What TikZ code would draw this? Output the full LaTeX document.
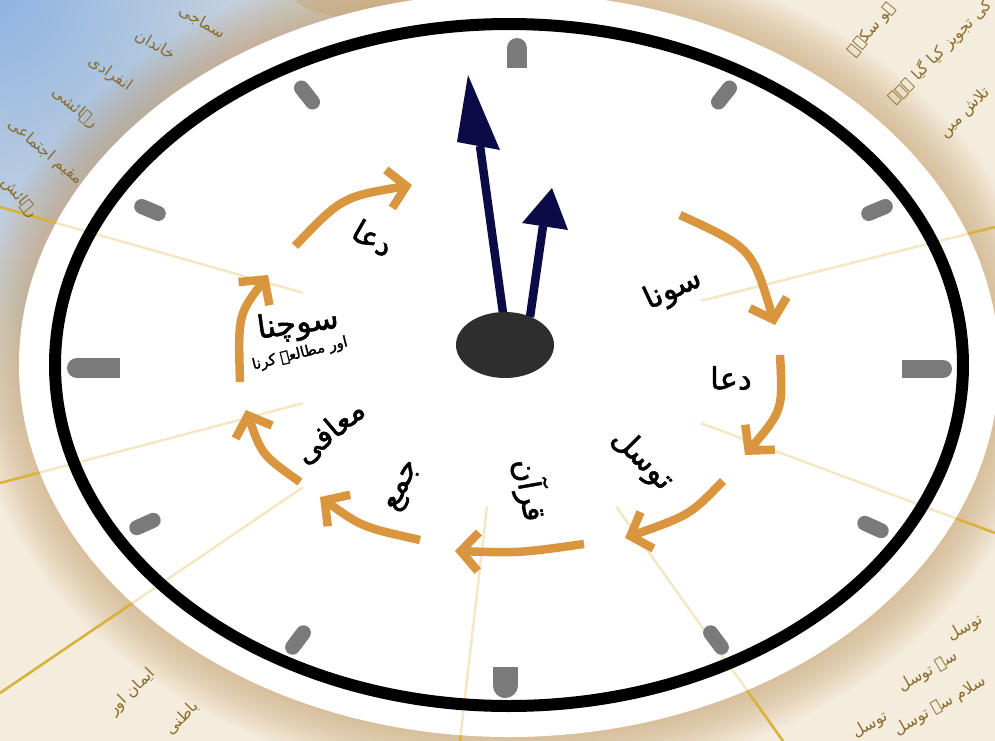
\documentclass[tikz,border=0pt]{standalone}
\usepackage{fontspec}
\usepackage{tikz}
\usetikzlibrary{arrows.meta, calc}
\TeXXeTstate=1
\newfontfamily\urdu[Script=Arabic]{DejaVu Sans}
\newfontfamily\urdub[Script=Arabic, FakeBold=1.6]{DejaVu Sans}
\definecolor{corange}{HTML}{D9963F}
\definecolor{cnavy}{HTML}{0B0B48}
\definecolor{chub}{HTML}{2E2E2E}
\definecolor{cmark}{HTML}{7A7A7A}
\definecolor{cgold}{HTML}{D9B23C}
\definecolor{ccream}{HTML}{F4ECDC}
\definecolor{ctan}{HTML}{C49A62}
\definecolor{csky}{HTML}{8DB2E2}
\definecolor{cbgtext}{HTML}{8A6C2C}
\tikzset{
  lbl/.style={font=\urdub\fontsize{17.5}{20}\selectfont, text=black, inner sep=1pt},
  bgtxt/.style={font=\urdu\fontsize{9}{11}\selectfont, text=cbgtext, inner sep=0pt},
  arr/.style={corange, line width=0.17cm, -{Straight Barb[length=10pt,width=22pt]}},
  ray/.style={cgold, line width=0.05cm},
  hand/.style={cnavy, line width=0.17cm},
  pill/.style={cmark, line width=0.3cm, line cap=round},
  markbar/.style={cmark, line width=#1},
}

\begin{document}
\begin{tikzpicture}[x=0.02cm, y=-0.02cm]
  \useasboundingbox (0,0) rectangle (995,741);
  \clip (0,0) rectangle (995,741);

  %% Background: paper, sky and shadow of the dial
  \fill[ccream] (0,0) rectangle (995,741);
  \shade[inner color=csky, outer color=ccream] (-10,-10) circle (470);
  \foreach \d in {48,45,...,3}{
    \fill[ctan, opacity=0.04] (509,365) ellipse [x radius=490+\d, y radius=372+\d];
  }
  \fill[ctan, opacity=0.35] (365,-8) ellipse [x radius=75, y radius=26];

  %% Rays
  \coordinate (ctr) at (505,350);
  \foreach \ex/\ey in {0/207, 0/483, 0/693, 460/741, 783/741, 995/533, 995/227}{
    \draw[ray] (ctr) -- (\ex,\ey);
  }

  %% Dial
  \fill[white] (509,365) ellipse [x radius=490, y radius=372];
  \foreach \ex/\ey in {0/207, 0/483, 0/693, 460/741, 783/741, 995/533, 995/227}{
    \draw[ray, opacity=0.3] ($(ctr)!0.4!(\ex,\ey)$) -- (\ex,\ey);
  }
  \draw[line width=0.24cm] (509,365) ellipse [x radius=454, y radius=341];

  %% Hour marks
  \draw[markbar=0.4cm] (517,68) -- (517,48);
  \draw[markbar=0.4cm, line cap=round] (517,50) -- (517,48);
  \draw[markbar=0.5cm] (505,667) -- (505,685.5);
  \draw[markbar=0.5cm, line cap=round] (505,684) -- (505,685.5);
  \draw[markbar=0.36cm] (902,369) -- (943,369);
  \draw[markbar=0.36cm, line cap=round] (941,369) -- (943,369);
  \draw[markbar=0.4cm] (77,368) -- (120,368);
  \draw[markbar=0.4cm, line cap=round] (77,368) -- (79,368);
  \foreach \ax/\ay/\bx/\by in {718.5/102/729.5/88, 868.7/213.5/885.3/206.5,
      864.8/523.3/881.2/530.7, 710.6/632.8/721.4/647.2,
      303.4/632.8/292.6/647.2, 153.2/520.3/136.8/527.7,
      158.3/213.5/141.7/206.5, 312.5/102/301.5/88}{
    \draw[pill] (\ax,\ay) -- (\bx,\by);
  }

  %% Hands
  \draw[hand] (503,313) -- (480,146);
  \fill[cnavy] (468,75) -- (457,142) -- (500,150) -- cycle;
  \draw[hand] (530,317) -- (543,226);
  \fill[cnavy] (552,188) -- (522,223) -- (568,230) -- cycle;
  \fill[chub] (505,345) ellipse [x radius=49, y radius=33];

  %% Cycle of arrows
  \draw[arr] (680,215) .. controls (752,248) .. (775,325);
  \draw[arr] (780,355) .. controls (783,410) .. (745,455);
  \draw[arr] (723,481) .. controls (690,515) .. (625,538);
  \draw[arr] (584,544) .. controls (520,553) .. (455,551);
  \draw[arr] (420,540) .. controls (362,527) .. (320,497);
  \draw[arr] (300,482) .. controls (262,455) .. (246,410);
  \draw[arr] (240,382) .. controls (238,315) .. (268,275);
  \draw[arr] (295,246) .. controls (342,197) .. (412,185);

  %% Labels
  \node[lbl, rotate=25] (sona) at (673,290) {\beginR سونا\endR};
  \node[lbl] (duaright) at (731,378) {\beginR دعا\endR};
  \node[lbl, rotate=-45] (tawassul) at (642,460) {\beginR توسل\endR};
  \node[lbl, rotate=-80] (quran) at (530,490) {\beginR قرآن\endR};
  \node[lbl, rotate=65] (jama) at (405,487) {\beginR جمع\endR};
  \node[lbl, rotate=40] (maafi) at (330,432) {\beginR معافی\endR};
  \node[lbl, rotate=8, font=\urdub\fontsize{18}{20}\selectfont] (sochna) at (298,325) {\beginR سوچنا\endR};
  \node[lbl, rotate=14, font=\urdub\fontsize{8.5}{10}\selectfont] (mutala) at (300,354) {\beginR اور مطالعہ کرنا\endR};
  \node[lbl, rotate=-30] (duatop) at (373,238) {\beginR دعا\endR};

  %% Faded text round the dial
  \node[bgtxt, rotate=-30] (bg1) at (202,22) {\beginR سماجی\endR};
  \node[bgtxt, rotate=-30] (bg2) at (155,45) {\beginR خاندان\endR};
  \node[bgtxt, rotate=-35] (bg3) at (110,74) {\beginR انفرادی\endR};
  \node[bgtxt, rotate=-40] (bg4) at (75,108) {\beginR رہائشی\endR};
  \node[bgtxt, rotate=-40] (bg5) at (45,152) {\beginR مقیم اجتماعی\endR};
  \node[bgtxt, rotate=-50] (bg6) at (20,198) {\beginR رہائش\endR};
  \node[bgtxt, rotate=50] (bg7) at (872,30) {\beginR ہو سکے۔\endR};
  \node[bgtxt, rotate=45] (bg8) at (940,52) {\beginR کی تجویز کیا گیا ہے۔\endR};
  \node[bgtxt, rotate=45] (bg9) at (965,113) {\beginR تلاش میں\endR};
  \node[bgtxt, rotate=30] (bg10) at (965,628) {\beginR توسل\endR};
  \node[bgtxt, rotate=30] (bg11) at (928,672) {\beginR سے توسل\endR};
  \node[bgtxt, rotate=30] (bg12) at (940,706) {\beginR سلام سے توسل\endR};
  \node[bgtxt, rotate=30] (bg13) at (870,725) {\beginR توسل\endR};
  \node[bgtxt, rotate=45] (bg14) at (132,692) {\beginR ایمان اور\endR};
  \node[bgtxt, rotate=45] (bg15) at (182,718) {\beginR باطنی\endR};
\end{tikzpicture}
\end{document}
